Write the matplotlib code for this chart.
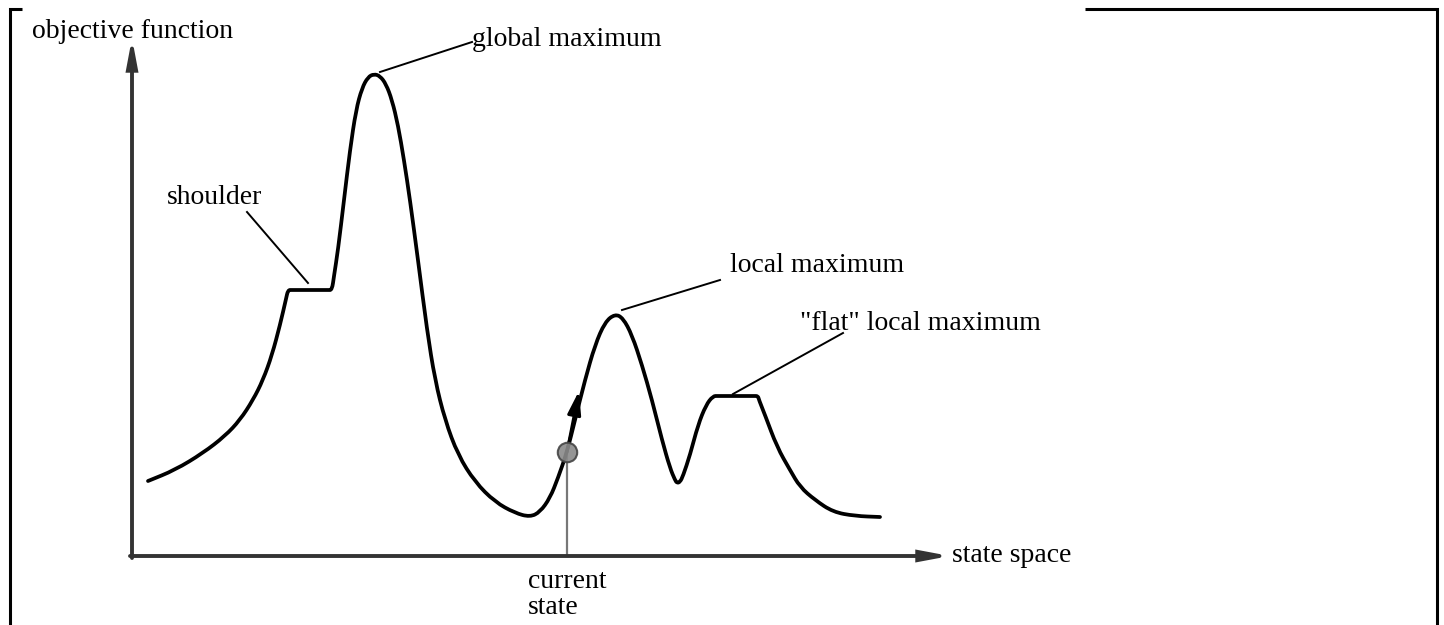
import numpy as np
import matplotlib
matplotlib.use("Agg")
import matplotlib.pyplot as plt
from matplotlib.path import Path
from matplotlib.patches import PathPatch

# =========================
# DATA (state space vs objective, origin at the axis corner)
# =========================
state = [16, 43, 71, 93, 108, 121, 131, 140, 148, 154, 156, 160, 196, 200, 202,
         206, 212, 218, 224, 230, 236, 242, 248, 254, 260, 266, 272, 278, 286,
         295, 303, 313, 326, 343, 363, 383, 398, 408, 418, 426, 435, 443, 453,
         463, 473, 483, 491, 500, 510, 520, 530, 538, 543, 545, 548, 551, 558,
         566, 574, 581, 586, 622, 626, 627, 633, 645, 658, 668, 683, 701, 723,
         748]
objective = [75, 86, 103, 120, 136, 156, 176, 201, 231, 257, 266, 266, 266, 266,
             280, 306, 356, 406, 446, 468, 479, 482, 480, 472, 456, 431, 396, 356,
             296, 226, 176, 136, 101, 74, 54, 43, 39, 44, 58, 78, 104, 136, 176,
             211, 234, 242, 238, 221, 191, 156, 116, 88, 76, 73, 74, 80, 101, 131,
             151, 160, 160, 160, 160, 156, 141, 109, 86, 69, 56, 44, 40, 39]

current_state = (435, 104)
move_tip = (447, 165)

labels = ["global maximum", "shoulder", "local maximum", "\"flat\" local maximum"]
label_pos = [(340, 516), (35, 359), (598, 291), (668, 233)]
leader_from = [(248, 484), (115, 344), (490, 246), (601, 162)]
leader_to = [(340, 514), (176, 273), (588, 276), (711, 223)]

FONT = ["Liberation Serif", "DejaVu Serif"]
FS = 20


def smooth_path(xs, ys):
    # quadratic pieces through segment midpoints, points act as control points
    pts = np.column_stack([xs, ys]).astype(float)
    mids = (pts[:-1] + pts[1:]) / 2
    verts = [pts[0], mids[0]]
    codes = [Path.MOVETO, Path.LINETO]
    for i in range(1, len(pts) - 1):
        verts += [pts[i], mids[i]]
        codes += [Path.CURVE3, Path.CURVE3]
    verts.append(pts[-1])
    codes.append(Path.LINETO)
    return Path(verts, codes)


# =========================
# FIGURE
# =========================
fig = plt.figure(figsize=(14.44, 6.25), dpi=100)
ax = fig.add_axes([0, 0, 1, 1])
ax.set_xlim(-132, 1312)
ax.set_ylim(-69, 556)
ax.axis("off")

# page frame fragments
ax.plot([-110, -122, -122], [547, 547, -69], color="black", lw=2.2,
        solid_capstyle="butt", solid_joinstyle="miter")
ax.plot([953, 1305, 1305], [547, 547, -69], color="black", lw=2.2,
        solid_capstyle="butt", solid_joinstyle="miter")

# axes with arrows
axis_arrow = dict(arrowstyle="-|>,head_length=1.6,head_width=0.3",
                  color="#333333", lw=2.8, shrinkA=0, shrinkB=0,
                  joinstyle="miter")
ax.annotate("", xy=(0, 518), xytext=(0, -2), arrowprops=axis_arrow)
ax.annotate("", xy=(818, 0), xytext=(-2, 0), arrowprops=axis_arrow)

# landscape curve
ax.add_patch(PathPatch(smooth_path(state, objective), fill=False,
                       edgecolor="black", lw=2.7, joinstyle="round",
                       capstyle="round", zorder=3))

# current state marker and move arrow
ax.plot([current_state[0], current_state[0]], [0, current_state[1]],
        color="#777777", lw=1.6, zorder=2)
ax.annotate("", xy=move_tip, xytext=current_state,
            arrowprops=dict(arrowstyle="-|>,head_length=1.4,head_width=0.4",
                            color="black", lw=2.2, shrinkA=0, shrinkB=0),
            zorder=4)
ax.plot(*current_state, "o", ms=14, mfc="#8a8a8a", mec="#444444", mew=1.5,
        alpha=0.9, zorder=5)

# leader lines and labels
for (x0, y0), (x1, y1) in zip(leader_from, leader_to):
    ax.plot([x0, x1], [y0, y1], color="black", lw=1.4)
for text, (x, y) in zip(labels, label_pos):
    ax.text(x, y, text, ha="left", va="center", fontsize=FS, family=FONT)

ax.text(-100, 525, "objective function", ha="left", va="center",
        fontsize=FS, family=FONT)
ax.text(820, 0, "state space", ha="left", va="center", fontsize=FS, family=FONT)
ax.text(396, -26, "current", ha="left", va="center", fontsize=FS, family=FONT)
ax.text(396, -51, "state", ha="left", va="center", fontsize=FS, family=FONT)

fig.savefig("out.png", dpi=100)
